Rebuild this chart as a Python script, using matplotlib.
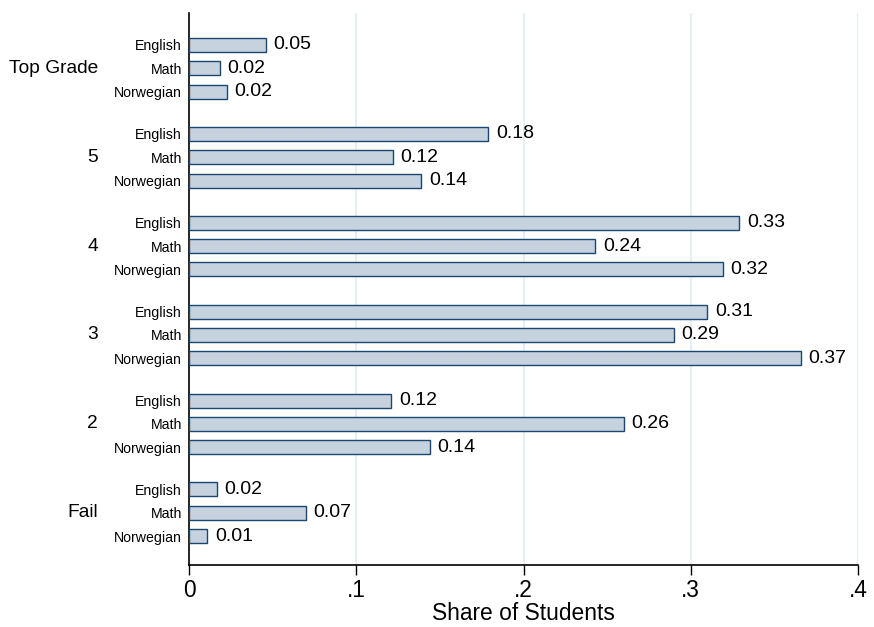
import numpy as np
import matplotlib
matplotlib.use("Agg")
import matplotlib.pyplot as plt
import matplotlib.transforms as mtransforms

plt.rcParams['font.family'] = ['Liberation Sans', 'DejaVu Sans']

grades = ["Top Grade", "5", "4", "3", "2", "Fail"]
subjects = ["English", "Math", "Norwegian"]
# share of students, rows = grades, columns = subjects
english = [0.046, 0.179, 0.329, 0.310, 0.121, 0.0167]
math = [0.0185, 0.122, 0.243, 0.290, 0.260, 0.070]
norwegian = [0.0227, 0.139, 0.319, 0.366, 0.144, 0.011]
shares = np.array([english, math, norwegian]).T

fill = "#c6d2de"
edge = "#1a476f"
gridcol = "#e6eff1"

fig = plt.figure(figsize=(8.74, 6.27), dpi=100)
ax = fig.add_axes([189/874, 1-565/627, (858-189)/874, (565-13)/627])

gap = 3.81
ypos = []
labs = []
for g in range(len(grades)):
    for i in range(len(subjects)):
        y = -(g*gap + i)
        v = shares[g, i]
        ax.barh(y, v, height=0.6, color=fill, edgecolor=edge, linewidth=1.0, zorder=3)
        ax.text(v + 0.0045, y, "%.2f" % v, va="center", ha="left", fontsize=14, zorder=4)
        ypos.append(y)
        labs.append(subjects[i])

ax.set_yticks(ypos)
ax.set_yticklabels(labs, fontsize=10.2)
ax.tick_params(axis="y", length=0, pad=5)

tr = mtransforms.blended_transform_factory(ax.transAxes, ax.transData)
for g, name in enumerate(grades):
    ax.text((98-189)/669, -(g*gap + 1), name, transform=tr, ha="right", va="center", fontsize=13.8)

ax.set_xlim(0, 0.4)
ax.set_ylim(-(5*gap + 2 + 1.24), 1.37)
ax.set_xticks([0, 0.1, 0.2, 0.3, 0.4])
ax.set_xticklabels(["0", ".1", ".2", ".3", ".4"], fontsize=16.4)
ax.tick_params(axis="x", length=7, width=1, pad=3)
ax.set_xlabel("Share of Students", fontsize=16.4, labelpad=0)

for xv in [0.1, 0.2, 0.3, 0.4]:
    ax.axvline(xv, color=gridcol, linewidth=1.5, zorder=1)

ax.spines["top"].set_visible(False)
ax.spines["right"].set_visible(False)
ax.spines["left"].set_linewidth(1.2)
ax.spines["bottom"].set_linewidth(1.2)

fig.savefig("out.png", dpi=100)
